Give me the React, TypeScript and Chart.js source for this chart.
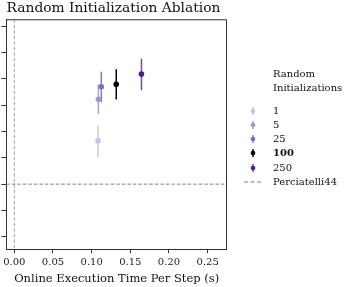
import React, { useEffect, useRef } from "react";
import { Chart, registerables } from "chart.js";

Chart.register(...registerables);

const seriesLabels = ["1", "5", "25", "100", "250"];
const seriesColors = ["#c3c2e0", "#9e9ac8", "#7b70c0", "#000000", "#4f1a96"];
const barColors = ["#c9c8e4", "#a6a2d0", "#8678c8", "#000000", "#7446b4"];
const xValues = [0.1083, 0.1087, 0.1125, 0.1318, 0.1644];
const yValues = [1.65, 3.22, 3.7, 3.79, 4.18];
const yLow = [1.04, 2.66, 3.11, 3.21, 3.57];
const yHigh = [2.24, 3.79, 4.27, 4.36, 4.76];
const xTicks = [0, 0.05, 0.1, 0.15, 0.2, 0.25];
const yTicks = [-2, -1, 0, 1, 2, 3, 4, 5, 6];
const refLabel = "Perciatelli44";
const refX = 0;
const refY = 0;

const FONT = "'DejaVu Serif', serif";

export default function App() {
  const ref = useRef<HTMLCanvasElement | null>(null);
  useEffect(() => {
    document.body.style.margin = "0";
    const canvas = ref.current!;
    const errorBars = {
      id: "errorBars",
      beforeDatasetsDraw(chart: any) {
        const ctx = chart.ctx;
        const xs = chart.scales.x;
        const ys = chart.scales.y;
        const ca = chart.chartArea;
        ctx.save();
        ctx.setLineDash([3.5, 2]);
        ctx.lineWidth = 1;
        ctx.strokeStyle = "#a0a0a0";
        const vx = xs.getPixelForValue(refX);
        ctx.beginPath();
        ctx.moveTo(vx, ca.top);
        ctx.lineTo(vx, ca.bottom);
        ctx.stroke();
        ctx.strokeStyle = "#808080";
        const hy = ys.getPixelForValue(refY);
        ctx.beginPath();
        ctx.moveTo(ca.left, hy);
        ctx.lineTo(ca.right, hy);
        ctx.stroke();
        ctx.setLineDash([]);
        ctx.lineWidth = 1.5;
        for (let i = 0; i < xValues.length; i++) {
          const px = xs.getPixelForValue(xValues[i]);
          ctx.strokeStyle = barColors[i];
          ctx.beginPath();
          ctx.moveTo(px, ys.getPixelForValue(yLow[i]));
          ctx.lineTo(px, ys.getPixelForValue(yHigh[i]));
          ctx.stroke();
        }
        ctx.restore();
      },
      afterDraw(chart: any) {
        const ctx = chart.ctx;
        const ca = chart.chartArea;
        ctx.save();
        ctx.strokeStyle = "#333333";
        ctx.lineWidth = 1;
        ctx.beginPath();
        ctx.moveTo(ca.left, ca.top + 0.5);
        ctx.lineTo(ca.right - 0.5, ca.top + 0.5);
        ctx.lineTo(ca.right - 0.5, ca.bottom);
        ctx.stroke();
        // legend
        const tx = 273;
        const mx = 253;
        ctx.fillStyle = "#111111";
        ctx.font = "10px " + FONT;
        ctx.textBaseline = "middle";
        ctx.textAlign = "left";
        ctx.fillText("Random", tx, 74);
        ctx.fillText("Initializations", tx, 88);
        const rowY = [111, 125, 139, 153, 168];
        for (let i = 0; i < seriesLabels.length; i++) {
          const y = rowY[i];
          ctx.strokeStyle = barColors[i];
          ctx.lineWidth = 1.5;
          ctx.beginPath();
          ctx.moveTo(mx, y - 4);
          ctx.lineTo(mx, y + 4);
          ctx.stroke();
          ctx.fillStyle = seriesColors[i];
          ctx.beginPath();
          ctx.arc(mx, y, 2.3, 0, Math.PI * 2);
          ctx.fill();
          ctx.fillStyle = "#111111";
          ctx.font = (seriesLabels[i] === "100" ? "bold " : "") + "10px " + FONT;
          ctx.fillText(seriesLabels[i], tx, y);
        }
        const ly = 182;
        ctx.strokeStyle = "#808080";
        ctx.lineWidth = 1.2;
        ctx.setLineDash([4, 2.5]);
        ctx.beginPath();
        ctx.moveTo(244, ly);
        ctx.lineTo(263, ly);
        ctx.stroke();
        ctx.setLineDash([]);
        ctx.fillStyle = "#111111";
        ctx.font = "10px " + FONT;
        ctx.fillText(refLabel, tx, ly);
        ctx.restore();
      },
    };

    const chart = new Chart(canvas, {
      type: "scatter",
      data: {
        datasets: seriesLabels.map((l, i) => ({
          label: l,
          data: [{ x: xValues[i], y: yValues[i] }],
          pointRadius: 2.8,
          pointBackgroundColor: seriesColors[i],
          pointBorderWidth: 0,
          pointHoverRadius: 2.8,
        })),
      },
      options: {
        responsive: false,
        animation: false,
        devicePixelRatio: 1,
        layout: { padding: { left: 0, right: 120, top: 0, bottom: 0 } },
        plugins: {
          legend: { display: false },
          tooltip: { enabled: false },
          title: {
            display: true,
            text: "Random Initialization Ablation",
            color: "#111111",
            font: { family: FONT, size: 13.8, weight: "normal" },
            padding: { top: 0, bottom: 2.7 },
          },
        },
        scales: {
          x: {
            type: "linear",
            min: -0.0103,
            max: 0.275,
            afterBuildTicks: (s: any) => {
              s.ticks = xTicks.map((v) => ({ value: v }));
            },
            ticks: {
              color: "#222222",
              font: { family: FONT, size: 10 },
              padding: 3,
              maxRotation: 0,
              callback: (v: any) => Number(v).toFixed(2),
            },
            grid: {
              drawOnChartArea: false,
              tickLength: 4,
              tickColor: "#333333",
            },
            border: { display: true, color: "#333333", width: 1 },
            title: {
              display: true,
              text: "Online Execution Time Per Step (s)",
              color: "#111111",
              font: { family: FONT, size: 11.5 },
              padding: { top: 1, bottom: 1 },
            },
          },
          y: {
            type: "linear",
            min: -2.47,
            max: 6.26,
            afterBuildTicks: (s: any) => {
              s.ticks = yTicks.map((v) => ({ value: v }));
            },
            ticks: { display: false },
            grid: {
              drawOnChartArea: false,
              tickLength: 5,
              tickColor: "#333333",
            },
            border: { display: true, color: "#333333", width: 1 },
          },
        },
      },
      plugins: [errorBars],
    } as any);
    return () => chart.destroy();
  }, []);
  return <canvas ref={ref} width={347} height={287} style={{ display: "block" }} />;
}
